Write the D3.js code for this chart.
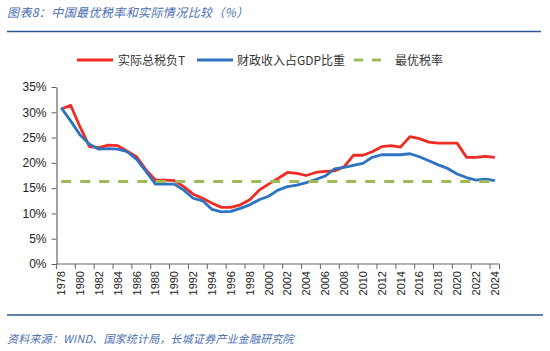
<!DOCTYPE html>
<html>
<head>
<meta charset="utf-8">
<script src="https://cdn.jsdelivr.net/npm/d3@7"></script>
<style>
    body { margin: 0; background: #fff; }
    svg { display: block; }
    .cjk { font-family: "Noto Sans CJK SC", "Noto Sans", sans-serif; }
    .num { font-family: "Liberation Sans", Arial, sans-serif; }
</style>
</head>
<body>
<div id="chart"></div>
<script>
// categories
const years = d3.range(1978, 2025);

// 实际总税负T (%)
const taxBurden = [30.6, 31.4, 27.1, 23.2, 23.0, 23.5, 23.4, 22.3, 21.2, 18.6,
    16.6, 16.6, 16.5, 15.3, 13.8, 13.0, 12.0, 11.2, 11.2, 11.7,
    12.7, 14.6, 15.8, 16.9, 18.1, 17.9, 17.5, 18.1, 18.3, 18.4,
    19.2, 21.5, 21.5, 22.2, 23.2, 23.4, 23.1, 25.2, 24.8, 24.1,
    23.9, 23.9, 23.9, 21.1, 21.1, 21.3, 21.1];

// 财政收入占GDP比重 (%)
const revenueShare = [30.9, 28.3, 25.5, 23.7, 22.7, 22.8, 22.7, 22.2, 20.7, 18.3,
    15.8, 15.8, 15.8, 14.6, 13.0, 12.5, 10.8, 10.3, 10.4, 11.0,
    11.7, 12.7, 13.4, 14.6, 15.3, 15.6, 16.1, 16.7, 17.4, 18.8,
    19.1, 19.5, 19.9, 21.1, 21.6, 21.6, 21.6, 21.8, 21.2, 20.4,
    19.6, 18.9, 17.8, 17.1, 16.6, 16.8, 16.5];

// 最优税率 (%)
const optimalRate = years.map(() => 16.3);

const yTicks = [0, 5, 10, 15, 20, 25, 30, 35];

const series = [
    {name: "实际总税负T", values: taxBurden, color: "#EF2B23", dash: null},
    {name: "财政收入占GDP比重", values: revenueShare, color: "#2E72C2", dash: null},
    {name: "最优税率", values: optimalRate, color: "#9BBB59", dash: "10,9"}
];

const width = 550, height = 351;
const plot = {left: 56.5, right: 499.5, top: 87, bottom: 264};

const svg = d3.select("#chart").append("svg")
    .attr("width", width)
    .attr("height", height);

// title
svg.append("text")
    .attr("class", "cjk")
    .attr("x", 7).attr("y", 17)
    .attr("font-size", 12)
    .attr("font-style", "italic")
    .attr("letter-spacing", 0.4)
    .attr("fill", "#4C6FB2")
    .text("图表8：中国最优税率和实际情况比较（%）");

svg.append("line")
    .attr("x1", 7).attr("x2", 541)
    .attr("y1", 31.5).attr("y2", 31.5)
    .attr("stroke", "#2F5597").attr("stroke-width", 1.5);

// scales
const x = d3.scaleBand()
    .domain(years)
    .range([plot.left, plot.right])
    .padding(0);

const y = d3.scaleLinear()
    .domain([0, 35])
    .range([plot.bottom, plot.top]);

// y axis
const yAxis = svg.append("g")
    .attr("transform", `translate(${plot.left},0)`)
    .call(d3.axisLeft(y).tickValues(yTicks).tickFormat(d => d + "%").tickSize(5).tickSizeOuter(0));
yAxis.select(".domain").attr("stroke", "#666").attr("stroke-width", 1.2);
yAxis.selectAll(".tick line").attr("stroke", "#666");
yAxis.selectAll(".tick text")
    .attr("class", "num")
    .attr("font-size", 12)
    .attr("fill", "#222")
    .attr("x", -10);

// x axis (ticks on category boundaries every 2 years)
const xAxis = svg.append("g");
xAxis.append("line")
    .attr("x1", plot.left).attr("x2", plot.right)
    .attr("y1", plot.bottom).attr("y2", plot.bottom)
    .attr("stroke", "#666").attr("stroke-width", 1.2);

const labelYears = years.filter(d => d % 2 === 0);
const tickPos = labelYears.map(d => x(d)).concat([plot.right]);

xAxis.selectAll(".xtick")
    .data(tickPos)
    .enter().append("line")
    .attr("class", "xtick")
    .attr("x1", d => d).attr("x2", d => d)
    .attr("y1", plot.bottom).attr("y2", plot.bottom + 5)
    .attr("stroke", "#666");

xAxis.selectAll(".xlabel")
    .data(labelYears)
    .enter().append("text")
    .attr("class", "num xlabel")
    .attr("font-size", 11)
    .attr("fill", "#222")
    .attr("text-anchor", "end")
    .attr("dominant-baseline", "central")
    .attr("transform", d => `translate(${x(d) + x.bandwidth() / 2},${plot.bottom + 7}) rotate(-90)`)
    .text(d => d);

// lines
const line = d3.line()
    .x((d, i) => x(years[i]) + x.bandwidth() / 2)
    .y(d => y(d));

svg.selectAll(".series")
    .data(series)
    .enter().append("path")
    .attr("class", "series")
    .attr("d", d => line(d.values))
    .attr("fill", "none")
    .attr("stroke", d => d.color)
    .attr("stroke-width", d => d.dash ? 3 : 2.8)
    .attr("stroke-dasharray", d => d.dash)
    .attr("stroke-linejoin", "round");

// legend
const legendPos = [
    {lx: 77, len: 36, tx: 118},
    {lx: 197, len: 36, tx: 237},
    {lx: 354, len: 30, tx: 395}
];
const legend = svg.selectAll(".legend")
    .data(series)
    .enter().append("g")
    .attr("class", "legend");

legend.append("line")
    .attr("x1", (d, i) => legendPos[i].lx)
    .attr("x2", (d, i) => legendPos[i].lx + legendPos[i].len)
    .attr("y1", 60).attr("y2", 60)
    .attr("stroke", d => d.color)
    .attr("stroke-width", 3)
    .attr("stroke-dasharray", d => d.dash ? "9,9" : null);

legend.append("text")
    .attr("class", "cjk")
    .attr("x", (d, i) => legendPos[i].tx)
    .attr("y", 64.5)
    .attr("font-size", 12)
    .attr("fill", "#333")
    .text(d => d.name);

// source
svg.append("line")
    .attr("x1", 7).attr("x2", 543)
    .attr("y1", 315).attr("y2", 315)
    .attr("stroke", "#2F5597").attr("stroke-width", 1.5);

svg.append("text")
    .attr("class", "cjk")
    .attr("x", 7).attr("y", 343)
    .attr("font-size", 11)
    .attr("font-style", "italic")
    .attr("letter-spacing", 0.2)
    .attr("fill", "#4C6FB2")
    .text("资料来源：WIND、国家统计局，长城证券产业金融研究院");
</script>
</body>
</html>
